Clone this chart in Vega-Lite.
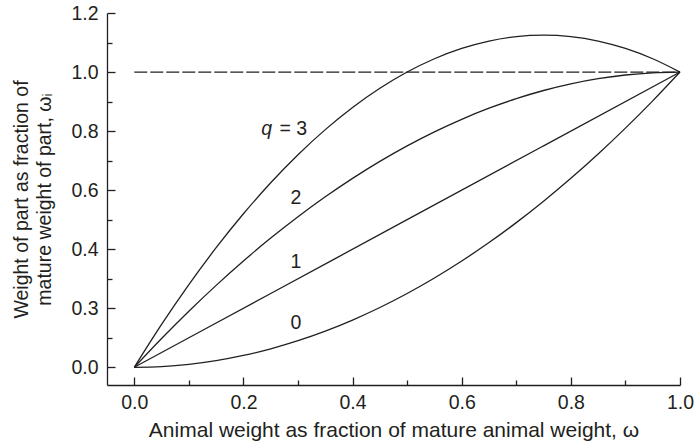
{
  "$schema": "https://vega.github.io/schema/vega-lite/v6.json",
  "width": 573,
  "height": 372,
  "autosize": "none",
  "padding": {"left": 107, "top": 13, "right": 16, "bottom": 63},
  "config": {
    "view": {"stroke": null},
    "font": "Liberation Sans",
    "axis": {"grid": false, "domainColor": "#231f20", "tickColor": "#231f20", "labelColor": "#231f20", "titleColor": "#231f20", "labelFont": "Liberation Sans", "titleFont": "Liberation Sans", "labelFontSize": 19.5, "titleFontSize": 19.5, "titleFontWeight": "normal", "domainWidth": 1.3, "tickWidth": 1.3}
  },
  "datasets": {
    "curves": [
      {"w": 0, "wi": 0, "q": "0"}, {"w": 0.05, "wi": 0.0025, "q": "0"}, {"w": 0.1, "wi": 0.01, "q": "0"}, {"w": 0.15, "wi": 0.0225, "q": "0"}, {"w": 0.2, "wi": 0.04, "q": "0"}, {"w": 0.25, "wi": 0.0625, "q": "0"}, {"w": 0.3, "wi": 0.09, "q": "0"}, {"w": 0.35, "wi": 0.1225, "q": "0"}, {"w": 0.4, "wi": 0.16, "q": "0"}, {"w": 0.45, "wi": 0.2025, "q": "0"}, {"w": 0.5, "wi": 0.25, "q": "0"}, {"w": 0.55, "wi": 0.3025, "q": "0"}, {"w": 0.6, "wi": 0.36, "q": "0"}, {"w": 0.65, "wi": 0.4225, "q": "0"}, {"w": 0.7, "wi": 0.49, "q": "0"}, {"w": 0.75, "wi": 0.5625, "q": "0"}, {"w": 0.8, "wi": 0.64, "q": "0"}, {"w": 0.85, "wi": 0.7225, "q": "0"}, {"w": 0.9, "wi": 0.81, "q": "0"}, {"w": 0.95, "wi": 0.9025, "q": "0"}, {"w": 1, "wi": 1, "q": "0"},
      {"w": 0, "wi": 0, "q": "1"}, {"w": 0.25, "wi": 0.25, "q": "1"}, {"w": 0.5, "wi": 0.5, "q": "1"}, {"w": 0.75, "wi": 0.75, "q": "1"}, {"w": 1, "wi": 1, "q": "1"},
      {"w": 0, "wi": 0, "q": "2"}, {"w": 0.05, "wi": 0.0975, "q": "2"}, {"w": 0.1, "wi": 0.19, "q": "2"}, {"w": 0.15, "wi": 0.2775, "q": "2"}, {"w": 0.2, "wi": 0.36, "q": "2"}, {"w": 0.25, "wi": 0.4375, "q": "2"}, {"w": 0.3, "wi": 0.51, "q": "2"}, {"w": 0.35, "wi": 0.5775, "q": "2"}, {"w": 0.4, "wi": 0.64, "q": "2"}, {"w": 0.45, "wi": 0.6975, "q": "2"}, {"w": 0.5, "wi": 0.75, "q": "2"}, {"w": 0.55, "wi": 0.7975, "q": "2"}, {"w": 0.6, "wi": 0.84, "q": "2"}, {"w": 0.65, "wi": 0.8775, "q": "2"}, {"w": 0.7, "wi": 0.91, "q": "2"}, {"w": 0.75, "wi": 0.9375, "q": "2"}, {"w": 0.8, "wi": 0.96, "q": "2"}, {"w": 0.85, "wi": 0.9775, "q": "2"}, {"w": 0.9, "wi": 0.99, "q": "2"}, {"w": 0.95, "wi": 0.9975, "q": "2"}, {"w": 1, "wi": 1, "q": "2"},
      {"w": 0, "wi": 0, "q": "3"}, {"w": 0.05, "wi": 0.145, "q": "3"}, {"w": 0.1, "wi": 0.28, "q": "3"}, {"w": 0.15, "wi": 0.405, "q": "3"}, {"w": 0.2, "wi": 0.52, "q": "3"}, {"w": 0.25, "wi": 0.625, "q": "3"}, {"w": 0.3, "wi": 0.72, "q": "3"}, {"w": 0.35, "wi": 0.805, "q": "3"}, {"w": 0.4, "wi": 0.88, "q": "3"}, {"w": 0.45, "wi": 0.945, "q": "3"}, {"w": 0.5, "wi": 1.0, "q": "3"}, {"w": 0.55, "wi": 1.045, "q": "3"}, {"w": 0.6, "wi": 1.08, "q": "3"}, {"w": 0.65, "wi": 1.105, "q": "3"}, {"w": 0.7, "wi": 1.12, "q": "3"}, {"w": 0.75, "wi": 1.125, "q": "3"}, {"w": 0.8, "wi": 1.12, "q": "3"}, {"w": 0.85, "wi": 1.105, "q": "3"}, {"w": 0.9, "wi": 1.08, "q": "3"}, {"w": 0.95, "wi": 1.045, "q": "3"}, {"w": 1, "wi": 1, "q": "3"}
    ],
    "mature": [{"w": 0, "wi": 1}, {"w": 1, "wi": 1}],
    "labels": [
      {"w": 0.3168, "wi": 0.807, "label": "= 3"},
      {"w": 0.306, "wi": 0.573, "label": "2"},
      {"w": 0.306, "wi": 0.356, "label": "1"},
      {"w": 0.306, "wi": 0.149, "label": "0"}
    ],
    "qlabel": [{"w": 0.2326, "wi": 0.807, "label": "q"}]
  },
  "resolve": {"axis": {"x": "independent", "y": "independent"}},
  "layer": [
    {
      "data": {"name": "curves"},
      "mark": {"type": "line", "interpolate": "monotone", "color": "#231f20", "strokeWidth": 1.3},
      "encoding": {
        "x": {"field": "w", "type": "quantitative", "scale": {"domain": [-0.05, 1.0], "nice": false, "zero": false},
          "axis": {"title": "Animal weight as fraction of mature animal weight, ω", "titleFontSize": 21, "values": [0, 0.2, 0.4, 0.6, 0.8, 1.0], "format": ".1f", "tickSize": -8, "labelPadding": 16, "titlePadding": 8, "labelFlush": false}},
        "y": {"field": "wi", "type": "quantitative", "scale": {"domain": [-0.06, 1.2], "nice": false, "zero": false},
          "axis": {"title": ["Weight of part as fraction of\u00a0\u00a0\u00a0\u00a0\u00a0\u00a0\u00a0\u00a0", "\u00a0\u00a0\u00a0\u00a0\u00a0\u00a0\u00a0\u00a0mature weight of part, ωᵢ"], "values": [0, 0.2, 0.4, 0.6, 0.8, 1.0, 1.2], "labelExpr": "abs(datum.value - 0.2) < 0.001 ? '0.3' : format(datum.value, '.1f')", "tickSize": -8, "labelPadding": 17, "titlePadding": 16, "labelFlush": false, "titleLineHeight": 23}},
        "detail": {"field": "q", "type": "nominal"}
      }
    },
    {
      "data": {"name": "mature"},
      "mark": {"type": "line", "color": "#231f20", "strokeWidth": 1.3, "strokeDash": [13, 3]},
      "encoding": {
        "x": {"field": "w", "type": "quantitative", "scale": {"domain": [-0.05, 1.0], "nice": false, "zero": false},
          "axis": {"title": null, "orient": "bottom", "values": [0.1, 0.3, 0.5, 0.7, 0.9], "labels": false, "domain": false, "tickSize": -5}},
        "y": {"field": "wi", "type": "quantitative", "scale": {"domain": [-0.06, 1.2], "nice": false, "zero": false},
          "axis": {"title": null, "orient": "left", "values": [0.1, 0.3, 0.5, 0.7, 0.9, 1.1], "labels": false, "domain": false, "tickSize": -5}}
      }
    },
    {
      "data": {"name": "labels"},
      "mark": {"type": "text", "fontSize": 19.5, "color": "#231f20", "align": "right", "baseline": "middle", "font": "Liberation Sans"},
      "encoding": {
        "x": {"field": "w", "type": "quantitative", "axis": null},
        "y": {"field": "wi", "type": "quantitative", "axis": null},
        "text": {"field": "label"}
      }
    },
    {
      "data": {"name": "qlabel"},
      "mark": {"type": "text", "fontSize": 19.5, "fontStyle": "italic", "color": "#231f20", "align": "left", "baseline": "middle", "font": "Liberation Sans"},
      "encoding": {
        "x": {"field": "w", "type": "quantitative", "axis": null},
        "y": {"field": "wi", "type": "quantitative", "axis": null},
        "text": {"field": "label"}
      }
    }
  ]
}
